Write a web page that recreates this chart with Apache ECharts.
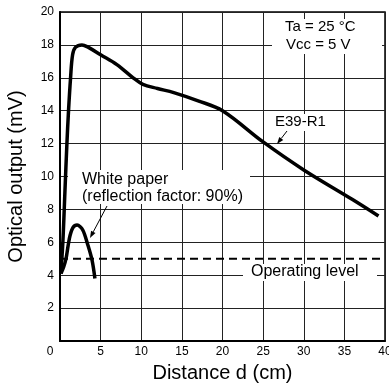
<!DOCTYPE html>
<html>
<head>
<meta charset="utf-8">
<script src="https://cdn.jsdelivr.net/npm/echarts@6/dist/echarts.min.js"></script>
<style>
  html, body { margin: 0; padding: 0; background: #fff; }
  #chart { width: 389px; height: 383px; }
</style>
</head>
<body>
<div id="chart"></div>
<script>
// E39-R1 curve
const distE39 = [0.1, 0.35, 0.6, 0.85, 1.05, 1.3, 1.55, 1.9, 2.7, 3.5, 5, 7, 9, 10.2, 12, 14, 17, 20, 25, 30, 36, 39.2];
const outE39 = [4.1, 6, 9, 12, 14, 16, 17.4, 17.85, 18.0, 17.85, 17.4, 16.8, 16.0, 15.6, 15.35, 15.1, 14.6, 14.0, 12.1, 10.4, 8.6, 7.6];
// white paper curve
const distWhite = [0.12, 0.45, 0.74, 1.0, 1.23, 1.6, 2.1, 2.8, 3.45, 3.95, 4.3];
const outWhite = [4.1, 4.5, 5.0, 5.8, 6.4, 6.9, 7.05, 6.75, 5.8, 4.9, 3.8];
// operating level
const opDist = [0, 40];
const opLevel = [5, 5];

const xTicks = [0, 40, 5];
const yTicks = [0, 20, 2];

const font = '"Liberation Sans", Arial, sans-serif';
const chart = echarts.init(document.getElementById('chart'));

const pairs = (xs, ys) => xs.map((x, i) => [x, ys[i]]);

function arrow(x1, y1, x2, y2) {
  const dx = x2 - x1, dy = y2 - y1;
  const len = Math.sqrt(dx * dx + dy * dy);
  const ux = dx / len, uy = dy / len;
  const bx = x2 - ux * 7, by = y2 - uy * 7;
  return [
    { type: 'line', z: 5, shape: { x1, y1, x2: bx, y2: by }, style: { stroke: '#000', lineWidth: 1 } },
    { type: 'polygon', z: 5, shape: { points: [[x2, y2], [bx + uy * 2.5, by - ux * 2.5], [bx - uy * 2.5, by + ux * 2.5]] }, style: { fill: '#000' } }
  ];
}

function box(x, y, w, h) {
  return { type: 'rect', z: 1, shape: { x, y, width: w, height: h }, style: { fill: '#fff' } };
}

function label(text, x, y, size) {
  return { type: 'text', z: 5, x, y, style: { text, fill: '#000', font: size + 'px ' + font, textVerticalAlign: 'middle' } };
}

chart.setOption({
  animation: false,
  backgroundColor: '#fff',
  grid: {
    left: 60, right: 4, top: 12, bottom: 42,
    outerBoundsMode: 'none', containLabel: false,
    show: true, borderColor: '#000', borderWidth: 1.5
  },
  xAxis: {
    type: 'value',
    min: xTicks[0], max: xTicks[1], interval: xTicks[2],
    name: 'Distance d (cm)',
    nameLocation: 'middle',
    nameGap: 22,
    nameTextStyle: { fontSize: 20, fontFamily: font, color: '#000' },
    axisLine: { lineStyle: { color: '#000', width: 2 } },
    axisTick: { show: false },
    axisLabel: {
      fontSize: 12, fontFamily: font, color: '#000', margin: 5,
      formatter: v => v === 0 ? '{z|0}' : String(v),
      rich: { z: { fontSize: 12, fontFamily: font, color: '#000', padding: [0, 20, 0, 0] } }
    },
    splitLine: { show: true, lineStyle: { color: '#222', width: 1 } }
  },
  yAxis: {
    type: 'value',
    min: yTicks[0], max: yTicks[1], interval: yTicks[2],
    name: 'Optical output (mV)',
    nameLocation: 'middle',
    nameGap: 34,
    nameTextStyle: { fontSize: 20, fontFamily: font, color: '#000' },
    axisLine: { show: true, lineStyle: { color: '#000', width: 2 } },
    axisTick: { show: false },
    axisLabel: {
      fontSize: 12, fontFamily: font, color: '#000', margin: 6,
      formatter: v => v === 0 ? '' : String(v)
    },
    splitLine: { show: true, lineStyle: { color: '#222', width: 1 } }
  },
  series: [
    {
      name: 'E39-R1', type: 'line', data: pairs(distE39, outE39),
      symbol: 'none', smooth: 0.35, z: 3,
      lineStyle: { color: '#000', width: 3.5 }
    },
    {
      name: 'White paper', type: 'line', data: pairs(distWhite, outWhite),
      symbol: 'none', smooth: 0.3, z: 3,
      lineStyle: { color: '#000', width: 3.5 }
    },
    {
      name: 'Operating level', type: 'line', data: pairs(opDist, opLevel),
      symbol: 'none', z: 3,
      lineStyle: { color: '#000', width: 2, type: [8, 5] }
    }
  ],
  graphic: [
    box(280, 19, 86, 17),
    box(272, 36, 110, 18),
    box(270, 114, 62, 17),
    box(68, 170, 182, 34),
    box(243, 264, 134, 17),
    label('Ta = 25 °C', 285, 27, 15),
    label('Vcc = 5 V', 286, 45, 15),
    label('E39-R1', 275, 122, 15),
    label('White paper', 82, 180, 16),
    label('(reflection factor: 90%)', 82, 197, 16),
    label('Operating level', 251, 272, 16),
    ...arrow(287, 131, 277, 144),
    ...arrow(107, 206, 90, 238)
  ]
});
</script>
</body>
</html>
